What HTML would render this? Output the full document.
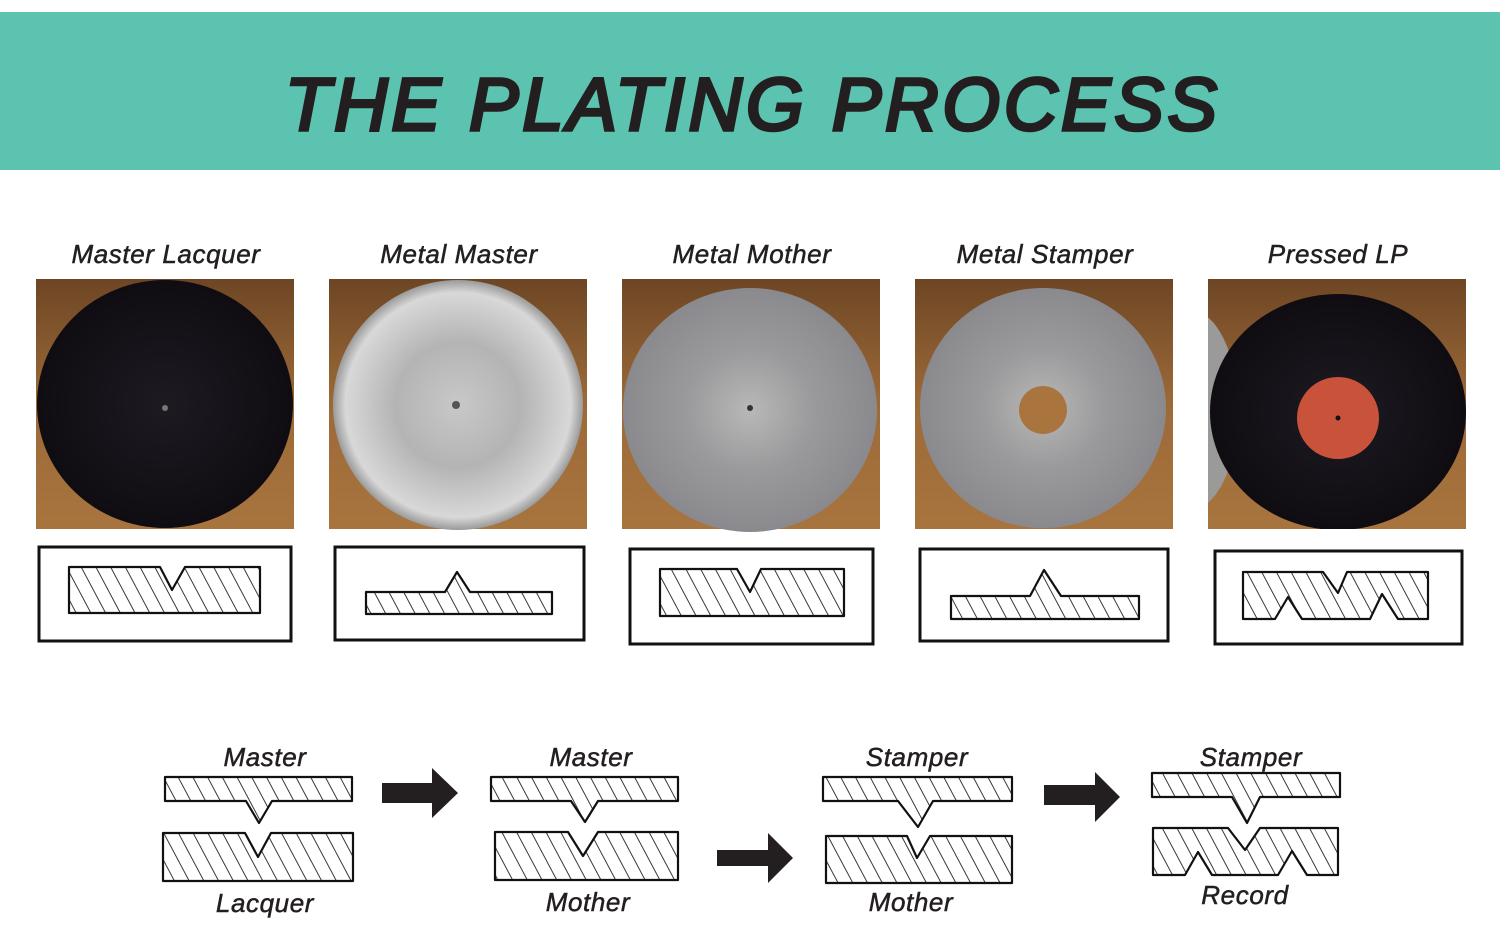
<!DOCTYPE html>
<html><head><meta charset="utf-8"><style>
html,body{margin:0;padding:0;background:#fff;}
svg{display:block;}
text{font-family:"Liberation Sans","DejaVu Sans",sans-serif;}
</style></head><body>
<svg width="1500" height="934" viewBox="0 0 1500 934" xmlns="http://www.w3.org/2000/svg">
<defs>
<pattern id="h" patternUnits="userSpaceOnUse" width="13" height="13" patternTransform="rotate(-28)">
<rect width="13" height="13" fill="#fff"/>
<line x1="0" y1="0" x2="0" y2="13" stroke="#222" stroke-width="1.8"/>
</pattern>
<linearGradient id="wood" x1="0" y1="0" x2="0" y2="1">
<stop offset="0" stop-color="#6e4624"/><stop offset="0.5" stop-color="#9c6a38"/><stop offset="1" stop-color="#a8743e"/>
</linearGradient>
<radialGradient id="blk" cx="0.5" cy="0.5" r="0.5">
<stop offset="0" stop-color="#1e1a22"/><stop offset="1" stop-color="#0f0c12"/>
</radialGradient>
<radialGradient id="sil" cx="0.5" cy="0.5" r="0.5">
<stop offset="0" stop-color="#c8c8c8"/><stop offset="0.5" stop-color="#b4b4b4"/><stop offset="0.9" stop-color="#d8d8d8"/><stop offset="1" stop-color="#9a9a9a"/>
</radialGradient>
<radialGradient id="gry" cx="0.5" cy="0.5" r="0.5">
<stop offset="0" stop-color="#b8b8b8"/><stop offset="0.5" stop-color="#9a9a9c"/><stop offset="1" stop-color="#8a8a8e"/>
</radialGradient>
<clipPath id="c5"><rect x="1208" y="279" width="258" height="250"/></clipPath>
</defs>

<rect x="0" y="12" width="1500" height="158" fill="#5cc3b0"/>
<text x="285" y="130" font-size="74" font-style="italic" fill="#231f20" stroke="#231f20" stroke-width="3.5" letter-spacing="8" textLength="940" lengthAdjust="spacing">THE PLATING PROCESS</text>

<g font-size="26" font-style="italic" fill="#231f20" stroke="#231f20" stroke-width="0.5" letter-spacing="0.6" text-anchor="middle">
<text x="166" y="263">Master Lacquer</text>
<text x="459" y="263">Metal Master</text>
<text x="752" y="263">Metal Mother</text>
<text x="1045" y="263">Metal Stamper</text>
<text x="1338" y="263">Pressed LP</text>
</g>

<rect x="36" y="279" width="258" height="250" fill="url(#wood)"/>
<ellipse cx="165" cy="404" rx="128" ry="124" fill="url(#blk)"/>
<circle cx="165" cy="408" r="3" fill="#777"/>

<rect x="329" y="279" width="258" height="250" fill="url(#wood)"/>
<ellipse cx="458" cy="405" rx="125" ry="125" fill="url(#sil)"/>
<circle cx="456" cy="405" r="4" fill="#555"/>

<rect x="622" y="279" width="258" height="250" fill="url(#wood)"/>
<ellipse cx="750" cy="410" rx="127" ry="122" fill="url(#gry)"/>
<circle cx="750" cy="408" r="3" fill="#333"/>

<rect x="915" y="279" width="258" height="250" fill="url(#wood)"/>
<ellipse cx="1043" cy="408" rx="123" ry="120" fill="url(#gry)"/>
<circle cx="1043" cy="410" r="24" fill="#a9743e"/>

<g clip-path="url(#c5)">
<rect x="1208" y="279" width="258" height="250" fill="url(#wood)"/>
<ellipse cx="1190" cy="410" rx="48" ry="100" fill="#9a9a98"/>
<ellipse cx="1338" cy="412" rx="128" ry="118" fill="url(#blk)"/>
<circle cx="1338" cy="418" r="41" fill="#c9533a"/>
<circle cx="1338" cy="418" r="2.5" fill="#111"/>
</g>

<g fill="none" stroke="#111" stroke-width="3">
<rect x="39" y="547" width="252" height="94"/>
<rect x="335" y="547" width="249" height="93"/>
<rect x="630" y="549" width="243" height="95"/>
<rect x="920" y="549" width="248" height="92"/>
<rect x="1215" y="551" width="247" height="93"/>
</g>
<g fill="url(#h)" stroke="#111" stroke-width="2.2" stroke-linejoin="round">
<polygon points="69,567 160,567 172,590 185,567 260,567 260,613 69,613"/>
<polygon points="366,592 445,592 457,572 470,592 552,592 552,614 366,614"/>
<polygon points="660,569 737,569 750,592 761,569 844,569 844,616 660,616"/>
<polygon points="951,596 1030,596 1044,570 1061,596 1139,596 1139,619 951,619"/>
<polygon points="1243,572 1323,572 1338,593 1347,572 1428,572 1428,619 1398,619 1382,594 1370,619 1302,619 1288,597 1275,619 1243,619"/>
</g>

<g fill="url(#h)" stroke="#111" stroke-width="2.2" stroke-linejoin="round">
<polygon points="165,777 352,777 352,801 272,801 259,823 246,801 165,801"/>
<polygon points="163,833 245,833 258,857 271,833 353,833 353,881 163,881"/>
<polygon points="491,777 678,777 678,801 598,801 585,822 571,801 491,801"/>
<polygon points="495,832 568,832 583,856 598,832 678,832 678,880 495,880"/>
<polygon points="823,777 1012,777 1012,801 933,801 918,827 898,801 823,801"/>
<polygon points="826,836 907,836 917,858 930,836 1012,836 1012,883 826,883"/>
<polygon points="1152,773 1340,773 1340,797 1260,797 1247,823 1232,797 1152,797"/>
<polygon points="1153,828 1228,828 1245,850 1260,828 1338,828 1338,875 1307,875 1292,851 1278,875 1212,875 1198,852 1185,875 1153,875"/>
</g>

<g fill="#231f20">
<polygon points="382,783 432,783 432,768 458,793 432,818 432,803 382,803"/>
<polygon points="717,850 768,850 768,833 793,858 768,883 768,866 717,866"/>
<polygon points="1044,785 1095,785 1095,772 1120,797 1095,822 1095,805 1044,805"/>
</g>

<g font-size="26" font-style="italic" fill="#231f20" stroke="#231f20" stroke-width="0.5" letter-spacing="0.6" text-anchor="middle">
<text x="265" y="766">Master</text>
<text x="265" y="912">Lacquer</text>
<text x="591" y="766">Master</text>
<text x="588" y="911">Mother</text>
<text x="917" y="766">Stamper</text>
<text x="911" y="911">Mother</text>
<text x="1251" y="766">Stamper</text>
<text x="1245" y="904">Record</text>
</g>
</svg>
</body></html>
